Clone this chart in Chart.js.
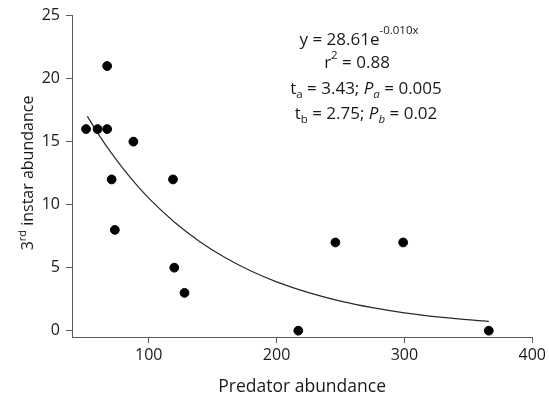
<!DOCTYPE html>
<html>
<head>
<meta charset="utf-8">
<script src="https://cdn.jsdelivr.net/npm/chart.js@4"></script>
<style>
  html, body { margin: 0; padding: 0; background: #fff; }
  #wrap { width: 549px; height: 395px; }
</style>
</head>
<body>
<div id="wrap"><canvas id="myChart"></canvas></div>
<script>
// observed points
const predators = [51, 60, 67.5, 67.5, 88, 71, 73.5, 119, 120, 128, 246, 299, 217, 366];
const instar3 = [16, 16, 16, 21, 15, 12, 8, 12, 5, 3, 7, 7, 0, 0];

// fitted curve
const fitX = [52, 60, 70, 80, 90, 100, 120, 140, 160, 180, 200, 225, 250, 275, 300, 330, 366];
const fitY = [17.0, 15.7, 14.2, 12.85, 11.63, 10.52, 8.62, 7.06, 5.78, 4.73, 3.87, 3.02, 2.35, 1.83, 1.42, 1.06, 0.74];

const xTicks = [100, 200, 300, 400];
const yTicks = [0, 5, 10, 15, 20, 25];

const FONT = '"Open Sans", sans-serif';
const INK = '#1a1a1a';
const AXIS = '#595959';

const drawRuns = (ctx, runs, cx, baseline) => {
    const fontOf = (r) => `${r.italic ? 'italic ' : ''}${r.size}px ${FONT}`;
    let total = 0;
    runs.forEach(r => { ctx.font = fontOf(r); total += ctx.measureText(r.text).width; });
    let x = cx - total / 2;
    runs.forEach(r => {
        ctx.font = fontOf(r);
        ctx.fillText(r.text, x, baseline + (r.dy || 0));
        x += ctx.measureText(r.text).width;
    });
};

const textPlugin = {
    id: 'textPlugin',
    afterDraw: (chart) => {
        const ctx = chart.ctx;
        ctx.save();
        ctx.fillStyle = INK;
        ctx.textBaseline = 'alphabetic';
        ctx.textAlign = 'left';

        drawRuns(ctx, [
            { text: 'y = 28.61e', size: 17 },
            { text: '-0.010x', size: 11.5, dy: -11 }
        ], 359, 45);
        drawRuns(ctx, [
            { text: 'r', size: 17 },
            { text: '2', size: 11.5, dy: -9 },
            { text: ' = 0.88', size: 17 }
        ], 357, 68);
        drawRuns(ctx, [
            { text: 't', size: 17 },
            { text: 'a', size: 11.5, dy: 4 },
            { text: ' = 3.43; ', size: 17 },
            { text: 'P', size: 17, italic: true },
            { text: 'a', size: 11.5, dy: 4, italic: true },
            { text: ' = 0.005', size: 17 }
        ], 366, 94);
        drawRuns(ctx, [
            { text: 't', size: 17 },
            { text: 'b', size: 11.5, dy: 4 },
            { text: ' = 2.75; ', size: 17 },
            { text: 'P', size: 17, italic: true },
            { text: 'b', size: 11.5, dy: 4, italic: true },
            { text: ' = 0.02', size: 17 }
        ], 366, 119);

        // y axis title with superscript
        ctx.translate(33, 173);
        ctx.rotate(-Math.PI / 2);
        drawRuns(ctx, [
            { text: '3', size: 16 },
            { text: 'rd', size: 11, dy: -7 },
            { text: ' instar abundance', size: 16 }
        ], 0, 0);
        ctx.restore();
    }
};

const config = {
    type: 'scatter',
    data: {
        datasets: [
            {
                label: 'observed',
                data: predators.map((x, i) => ({ x: x, y: instar3[i] })),
                backgroundColor: '#000',
                borderColor: '#000',
                pointRadius: 4.4,
                pointHoverRadius: 4.4
            },
            {
                label: 'fit',
                type: 'line',
                data: fitX.map((x, i) => ({ x: x, y: fitY[i] })),
                borderColor: '#2a2a2a',
                borderWidth: 1.2,
                pointRadius: 0,
                cubicInterpolationMode: 'monotone',
                fill: false
            }
        ]
    },
    options: {
        responsive: true,
        maintainAspectRatio: false,
        animation: false,
        layout: { padding: { top: 15, right: 13, left: 0, bottom: 0 } },
        plugins: {
            legend: { display: false },
            tooltip: { enabled: false }
        },
        scales: {
            x: {
                type: 'linear',
                min: 40,
                max: 400,
                afterBuildTicks: (scale) => { scale.ticks = xTicks.map(v => ({ value: v })); },
                afterFit: (scale) => { scale.height = 58; },
                border: { display: true, color: AXIS, width: 1 },
                grid: { display: true, drawOnChartArea: false, drawTicks: true, tickLength: 6, color: AXIS },
                ticks: { color: INK, font: { family: FONT, size: 16 }, padding: 3, maxRotation: 0 },
                title: {
                    display: true,
                    text: 'Predator abundance',
                    color: INK,
                    font: { family: FONT, size: 17.5 },
                    padding: { top: 0, bottom: -3 }
                }
            },
            y: {
                min: -0.5,
                max: 25,
                afterBuildTicks: (scale) => { scale.ticks = yTicks.map(v => ({ value: v })); },
                afterFit: (scale) => { scale.width = 72; },
                border: { display: true, color: AXIS, width: 1 },
                grid: { display: true, drawOnChartArea: false, drawTicks: true, tickLength: 6, color: AXIS },
                ticks: { color: INK, font: { family: FONT, size: 16 }, padding: 6 }
            }
        }
    },
    plugins: [textPlugin]
};

document.addEventListener('DOMContentLoaded', () => {
    const ctx = document.getElementById('myChart').getContext('2d');
    new Chart(ctx, config);
});
</script>
</body>
</html>
